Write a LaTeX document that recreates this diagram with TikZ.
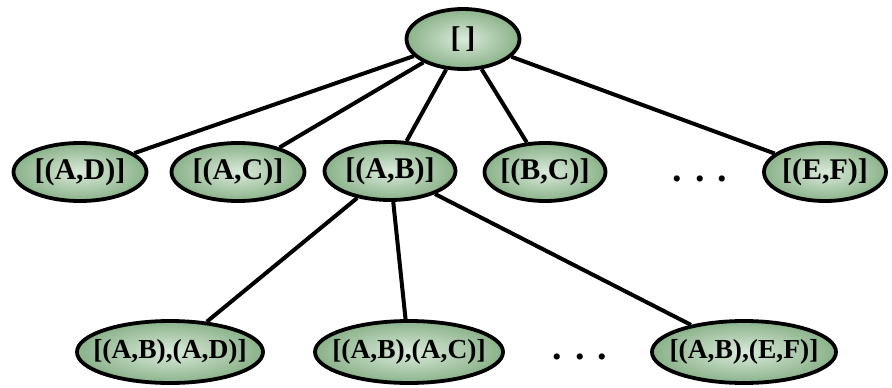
\documentclass[tikz,border=0pt]{standalone}
\usepackage{fontspec}
\setmainfont{Liberation Serif}
\usetikzlibrary{shapes.geometric}

\definecolor{leafin}{RGB}{218,234,218}
\definecolor{leafout}{RGB}{138,178,138}

\begin{document}
\begin{tikzpicture}[x=1pt, y=-1pt,
        state/.style={ellipse, draw, line width=3.8pt, inner xsep=-30pt, inner ysep=0pt,
            minimum height=58pt, inner color=leafin, outer color=leafout,
            font=\fontsize{30}{30}\selectfont\bfseries},
        pair/.style={state, minimum height=62pt,
            font=\fontsize{27.5}{28}\selectfont\bfseries},
        link/.style={line width=4pt},
        gap/.style={font=\fontsize{38}{38}\selectfont\bfseries}]
    \useasboundingbox (0,0) rectangle (892,388);

    \node[state, minimum width=113pt, minimum height=60pt] (root) at (463,39) {[\,]};

    \node[state, minimum width=133pt] (ad) at (80,172) {[(A,D)]};
    \node[state, minimum width=133pt] (ac) at (238,172) {[(A,C)]};
    \node[state, minimum width=131pt] (ab) at (390,171) {[(A,B)]};
    \node[state, minimum width=121pt] (bc) at (545,172) {[(B,C)]};
    \node[gap] (dotsa) at (700,179) {.\hspace{13pt}.\hspace{13pt}.};
    \node[state, minimum width=122pt] (ef) at (825,172) {[(E,F)]};

    \node[pair, minimum width=186pt] (abad) at (170,352) {[(A,B),(A,D)]};
    \node[pair, minimum width=188pt] (abac) at (409,352) {[(A,B),(A,C)]};
    \node[gap] (dotsb) at (580,357) {.\hspace{13pt}.\hspace{13pt}.};
    \node[pair, minimum width=184pt] (abef) at (744,352) {[(A,B),(E,F)]};

    % edges below the root
    \foreach \n in {ad,ac,ab,bc,ef}
        \draw[link] (root) -- (\n);
    % edges below (A,B)
    \foreach \n in {abad,abac,abef}
        \draw[link] (ab) -- (\n);
\end{tikzpicture}
\end{document}
